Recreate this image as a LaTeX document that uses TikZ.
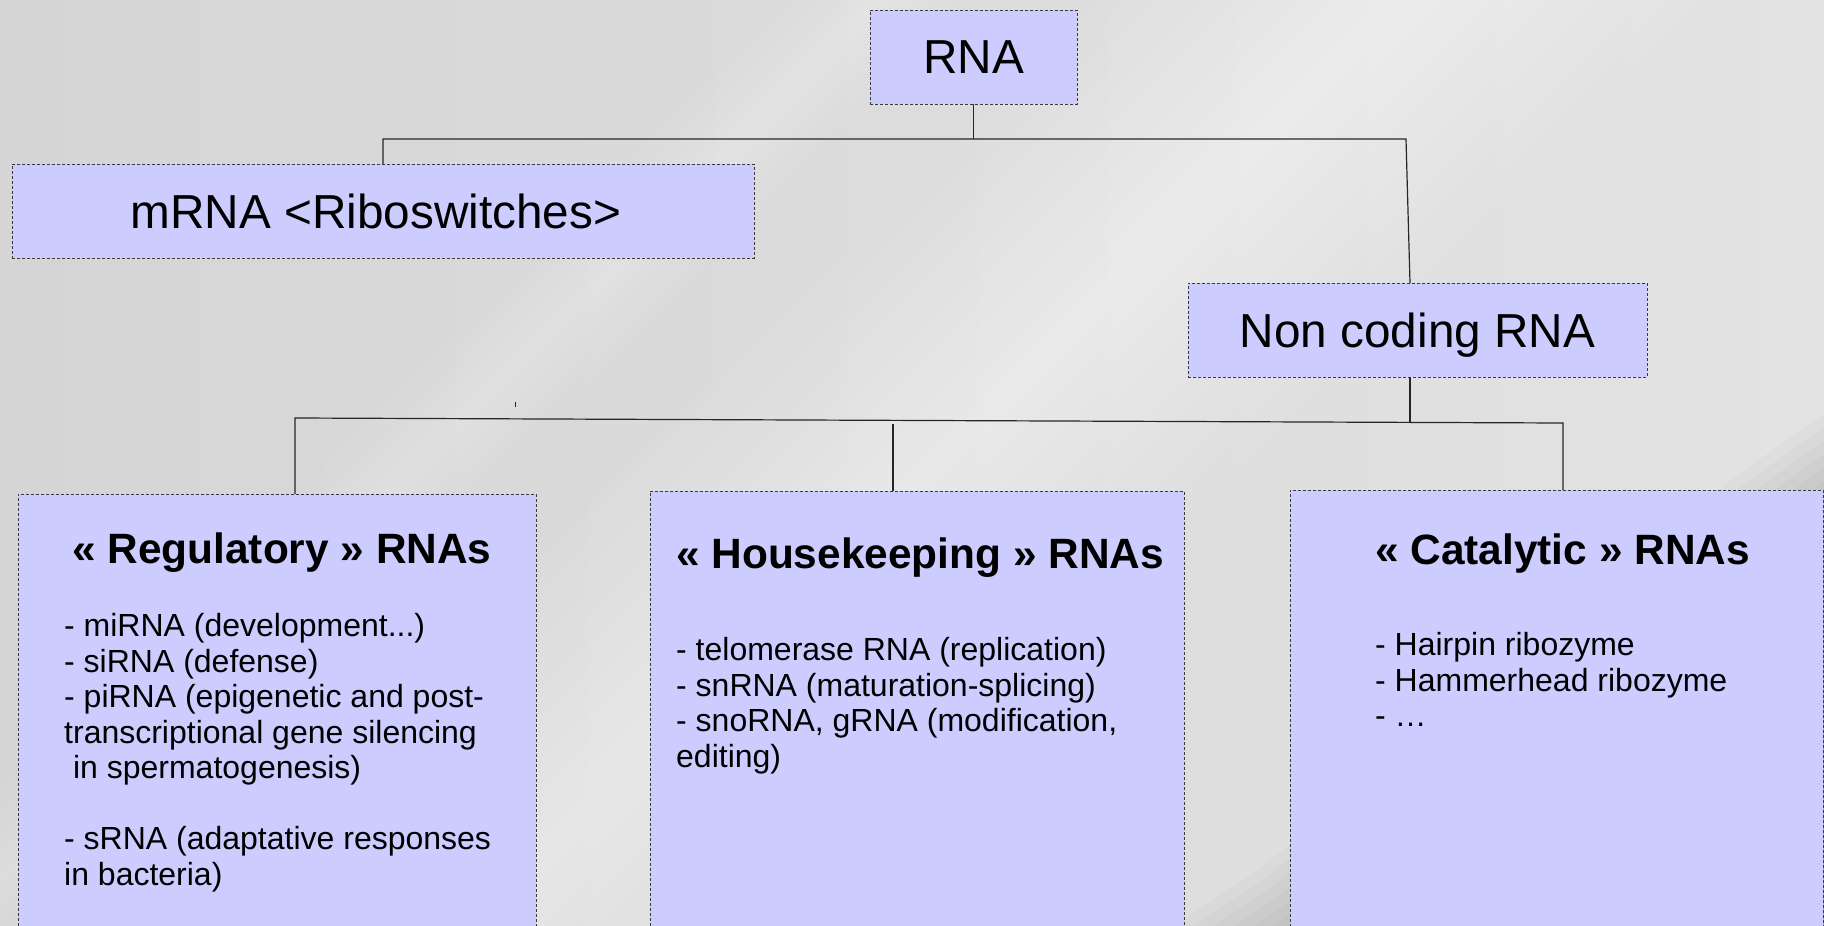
\documentclass[tikz,border=0pt]{standalone}
\usepackage{fontspec}
\setmainfont{Liberation Sans}
\usetikzlibrary{calc}

\definecolor{boxfill}{HTML}{CCCCFF}
\definecolor{boxline}{HTML}{3A3A3A}
\definecolor{bgdark}{HTML}{D5D5D5}
\definecolor{bgmid}{HTML}{E3E3E3}

\tikzset{
  box/.style={draw=boxline, fill=boxfill, line width=1pt,
    dash pattern=on 3pt off 2pt, inner sep=0pt, outer sep=0pt},
  head/.style={box, font=\fontsize{47.7}{57}\selectfont, text depth=0pt},
  panel/.style={box, minimum height=460},
  wire/.style={draw=black!85, line width=1.2pt},
  title/.style={font=\fontsize{42.4}{50}\selectfont\bfseries,
    anchor=base west, inner sep=0pt},
  body/.style={font=\fontsize{32}{35.5}\selectfont,
    anchor=base west, inner sep=0pt},
}

\begin{document}
\begin{tikzpicture}[x=1pt, y=-1pt]
  \useasboundingbox (0,0) rectangle (1824,926);
  \clip (0,0) rectangle (1824,926);

  % backdrop: grey sheet with soft diagonal highlights
  \shade[left color=bgdark, right color=bgmid] (0,0) rectangle (1824,926);
  \foreach \w in {40,90,140,190,240,290,340,390,440,490,540,600}
    \fill[white, opacity=0.055] (1400-\w/2,0) -- (1400+\w/2,0)
      -- (1400+\w/2-926,926) -- (1400-\w/2-926,926) -- cycle;
  \foreach \w in {20,45,70,95,120,150,180}
    \fill[white, opacity=0.045] (880-\w/2,0) -- (880+\w/2,0)
      -- (880+\w/2-926,926) -- (880-\w/2-926,926) -- cycle;
  % darker sweep in the lower right corner
  \foreach \k in {0,...,11}
    \fill[black, opacity=0.02, shift={(\k*8,\k*8)}]
      (1150,940) .. controls (1400,790) and (1600,560) .. (1824,415)
      -- (2100,415) -- (2100,1300) -- (1150,1300) -- cycle;

  % top level
  \node[head, minimum width=207, minimum height=94] (rna) at (973.5,57) {RNA};
  \node[head, minimum width=742, minimum height=94] (mrna) at (383,211)
    {mRNA <Riboswitches>\rule{14pt}{0pt}};
  \node[head, minimum width=459, minimum height=94] (ncr) at (1417.5,330)
    {Non coding RNA};

  % three families of non coding RNA
  \node[panel, minimum width=518] (reg) at (277,724) {};
  \node[panel, minimum width=534] (hk) at (917,721) {};
  \node[panel, minimum width=533] (cat) at (1556.5,720) {};

  \node[title] (regT) at (72,563) {« Regulatory » RNAs};
  \node[title] (hkT) at (676,568) {« Housekeeping » RNAs};
  \node[title] (catT) at (1375,564) {« Catalytic » RNAs};

  \node[body] (regB) at (64,636.5) {\vtop{%
    \hbox{- miRNA (development...)}
    \hbox{- siRNA (defense)}
    \hbox{- piRNA (epigenetic and post-}
    \hbox{transcriptional gene silencing}
    \hbox{\ in spermatogenesis)}
    \hbox{}
    \hbox{- sRNA (adaptative responses}
    \hbox{in bacteria)}}};
  \node[body] (hkB) at (676,660.5) {\vtop{%
    \hbox{- telomerase RNA (replication)}
    \hbox{- snRNA (maturation-splicing)}
    \hbox{- snoRNA, gRNA (modification,}
    \hbox{editing)}}};
  \node[body] (catB) at (1375,655.5) {\vtop{%
    \hbox{- Hairpin ribozyme}
    \hbox{- Hammerhead ribozyme}
    \hbox{- …}}};

  % connectors
  \coordinate (topL) at (383,139);
  \coordinate (topR) at (1406,139);
  \coordinate (ncJ) at (1410,422);
  \draw[wire] (rna.south) -- (rna.south |- topL);
  \draw[wire] (mrna.north) -- (topL) -- (topR) -- (ncr.north -| ncJ);

  \coordinate (botL) at (295,418);
  \coordinate (botR) at (1563,423);
  \coordinate (midJ) at (893,424);
  \draw[wire] (ncr.south -| ncJ) -- (ncJ);
  \draw[wire] (reg.north -| botL) -- (botL) -- (botR) -- (cat.north -| botR);
  \draw[wire] (midJ) -- (hk.north -| midJ);
  \coordinate (tick) at (515,402);
  \draw[wire, line width=0.9pt] (tick) -- ++(0,5);
\end{tikzpicture}
\end{document}
